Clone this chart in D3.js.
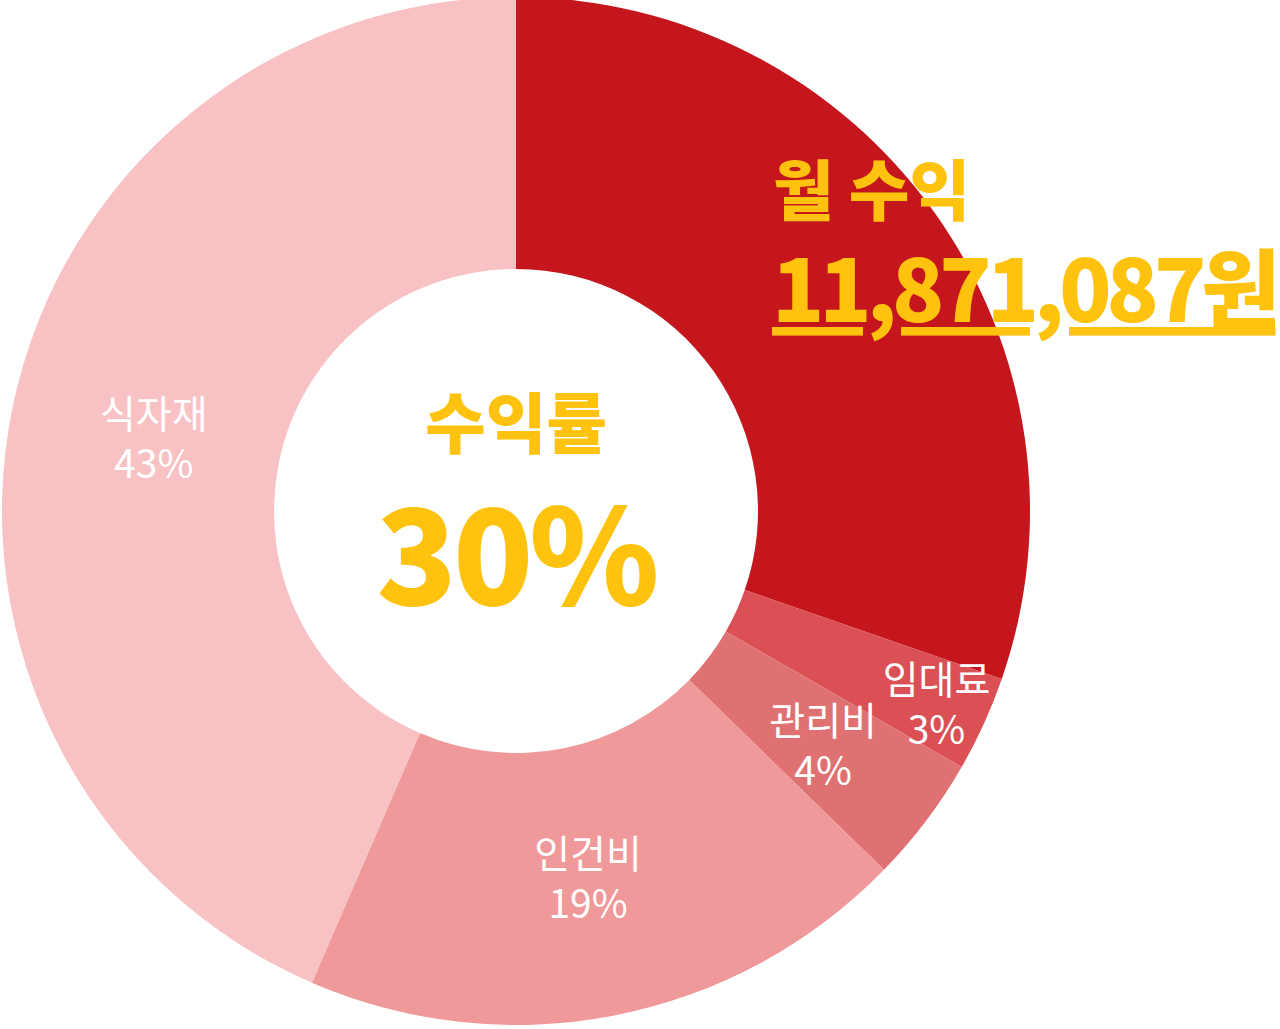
<!DOCTYPE html>
<html><head><meta charset="utf-8">
<script src="https://cdn.jsdelivr.net/npm/d3@7"></script>
<style>body{margin:0;background:#fff}svg{display:block}</style>
</head><body>
<script>
const categories=["수익","임대료","관리비","인건비","식자재"];
const values=[30.3,3,4,19.2,43.5];
const labels=["","3%","4%","19%","43%"];
const colors=["#c4161c","#db5055","#e07173","#f0999a","#f8c1c3"];
const W=1280,H=1029,cx=516,cy=511,R=514,r=242;
const svg=d3.select("body").append("svg").attr("width",W).attr("height",H);
const g=svg.append("g").attr("transform",`translate(${cx},${cy})`);
const pie=d3.pie().sort(null).value(d=>d);
const arcs=pie(values);
const arc=d3.arc().innerRadius(r).outerRadius(R);
g.selectAll("path").data(arcs).enter().append("path").attr("d",arc).attr("fill",(d,i)=>colors[i]);
const lr=[0,462,385,372,370];
const font="'Noto Sans CJK KR','Noto Sans',sans-serif";
arcs.forEach((d,i)=>{if(!i)return;
 const a=(d.startAngle+d.endAngle)/2, rr=lr[i];
 const x=Math.sin(a)*rr,y=-Math.cos(a)*rr;
 const t=g.append("text").attr("text-anchor","middle").attr("fill","#fff").attr("font-family",font).attr("font-size",39);
 t.append("tspan").attr("x",x).attr("y",y-8).text(categories[i]);
 t.append("tspan").attr("x",x).attr("y",y+42).text(labels[i]);
});
g.append("text").attr("text-anchor","middle").attr("y",-63).attr("fill","#ffc20e").attr("font-family",font).attr("font-weight",900).attr("font-size",66).text("수익률");
g.append("text").attr("text-anchor","middle").attr("y",94).attr("fill","#ffc20e").attr("font-family",font).attr("font-weight",900).attr("font-size",132).attr("letter-spacing",-4).text("30%");
svg.append("text").attr("x",773).attr("y",215).attr("fill","#ffc20e").attr("font-family",font).attr("font-weight",900).attr("font-size",66).text("월 수익");
svg.append("text").attr("x",772).attr("y",322).attr("fill","#ffc20e").attr("font-family",font).attr("font-weight",900).attr("font-size",86).attr("letter-spacing",-5).attr("text-decoration","underline").text("11,871,087원");
</script>
</body></html>
